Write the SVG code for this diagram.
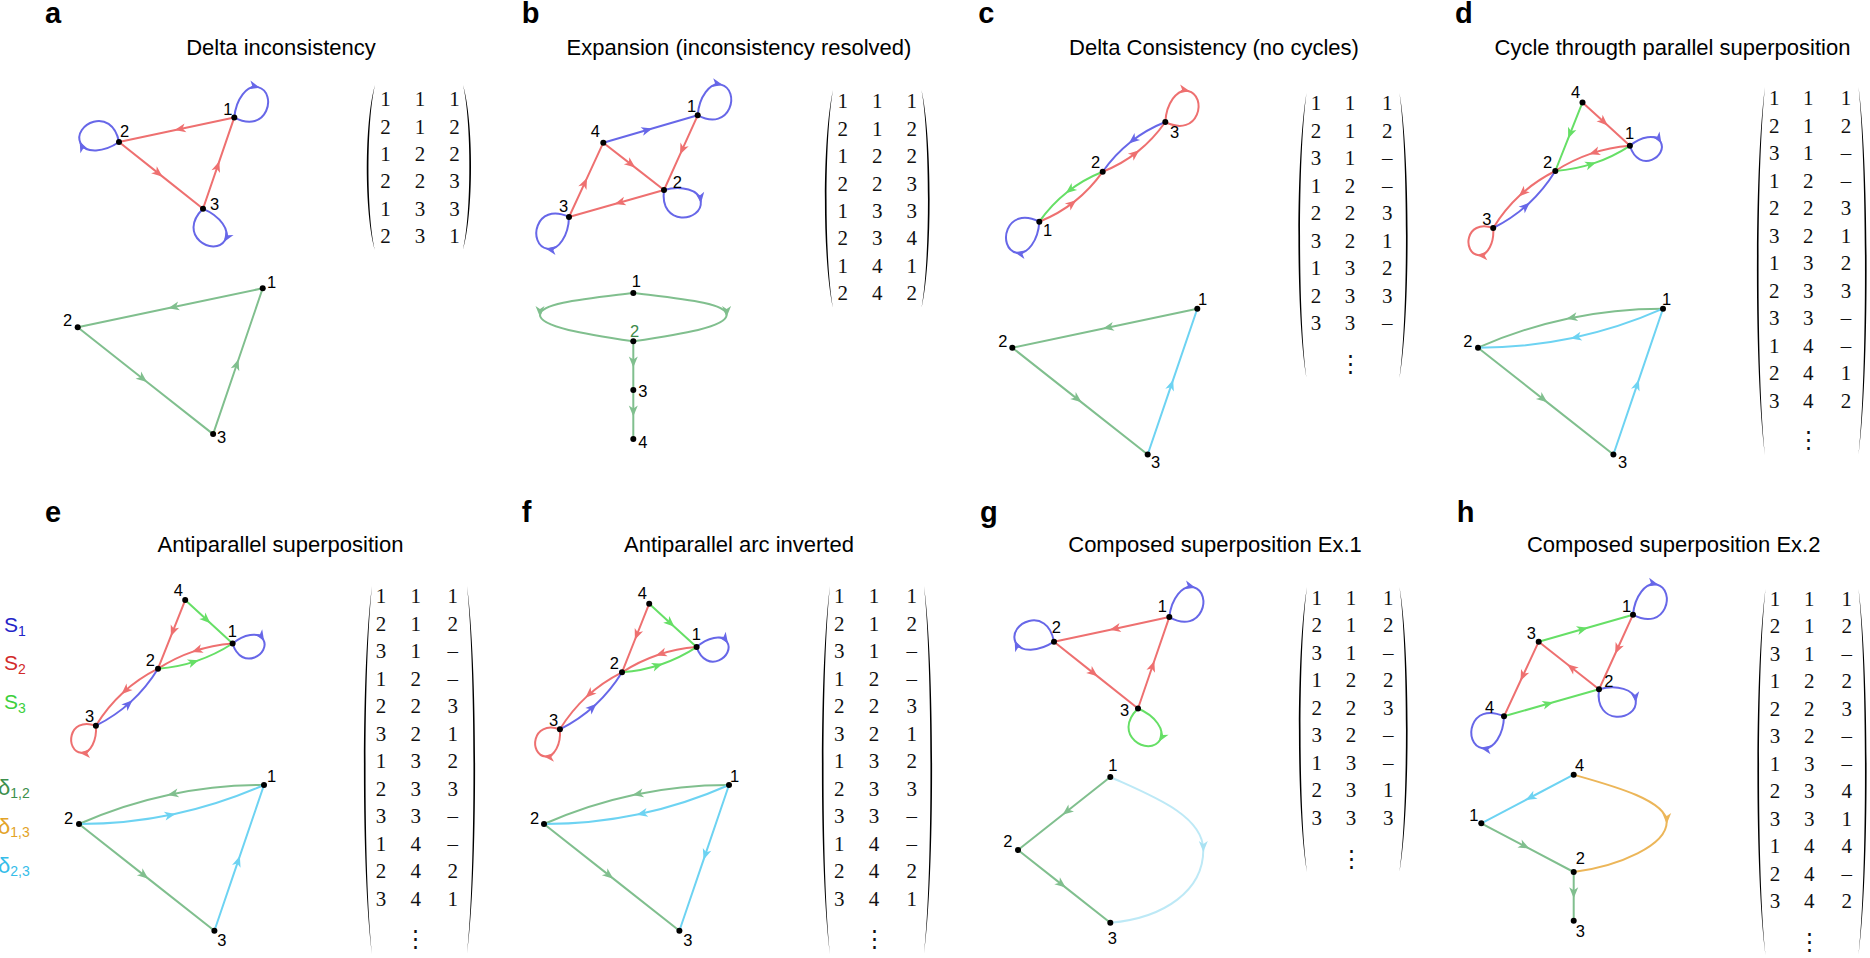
<svg xmlns="http://www.w3.org/2000/svg" width="1870" height="958" viewBox="0 0 1870 958">
<style>
text { font-family: "Liberation Sans", Arial, sans-serif; fill: #000; }
.letter { font-size: 29px; font-weight: bold; }
.title { font-size: 22px; text-anchor: middle; }
.lbl { font-size: 16.5px; }
.mx text { font-family: "Liberation Serif", "Times New Roman", serif; font-size: 21px; text-anchor: middle; fill: #111; }
.mx text.vd { font-family: "DejaVu Serif", serif; font-size: 23px; }
.paren { fill: #000; stroke: none; }
.e { fill: none; stroke-width: 2; stroke-linejoin: round; stroke-linecap: round; }
.r { stroke: #ee7070; marker-mid: url(#mr); }
.b { stroke: #6767e8; marker-mid: url(#mb); }
.g { stroke: #66df66; marker-mid: url(#mg); }
.k { stroke: #80bf8e; marker-mid: url(#mk); }
.c { stroke: #6dd3f2; marker-mid: url(#mc); }
.o { stroke: #ecb659; marker-mid: url(#mo); }
.l { stroke: #bde9f6; marker-mid: url(#ml); }
circle { fill: #000; }
</style>
<defs>
<marker id="mr" viewBox="-10 -5 13 10" markerWidth="13" markerHeight="10" refX="0" refY="0" orient="auto" markerUnits="userSpaceOnUse"><path d="M2,0 L-9,-4.5 L-6,0 L-9,4.5 Z" fill="#ee7070"/></marker>
<marker id="mb" viewBox="-10 -5 13 10" markerWidth="13" markerHeight="10" refX="0" refY="0" orient="auto" markerUnits="userSpaceOnUse"><path d="M2,0 L-9,-4.5 L-6,0 L-9,4.5 Z" fill="#6767e8"/></marker>
<marker id="mg" viewBox="-10 -5 13 10" markerWidth="13" markerHeight="10" refX="0" refY="0" orient="auto" markerUnits="userSpaceOnUse"><path d="M2,0 L-9,-4.5 L-6,0 L-9,4.5 Z" fill="#66df66"/></marker>
<marker id="mk" viewBox="-10 -5 13 10" markerWidth="13" markerHeight="10" refX="0" refY="0" orient="auto" markerUnits="userSpaceOnUse"><path d="M2,0 L-9,-4.5 L-6,0 L-9,4.5 Z" fill="#80bf8e"/></marker>
<marker id="mc" viewBox="-10 -5 13 10" markerWidth="13" markerHeight="10" refX="0" refY="0" orient="auto" markerUnits="userSpaceOnUse"><path d="M2,0 L-9,-4.5 L-6,0 L-9,4.5 Z" fill="#6dd3f2"/></marker>
<marker id="mo" viewBox="-10 -5 13 10" markerWidth="13" markerHeight="10" refX="0" refY="0" orient="auto" markerUnits="userSpaceOnUse"><path d="M2,0 L-9,-4.5 L-6,0 L-9,4.5 Z" fill="#ecb659"/></marker>
<marker id="ml" viewBox="-10 -5 13 10" markerWidth="13" markerHeight="10" refX="0" refY="0" orient="auto" markerUnits="userSpaceOnUse"><path d="M2,0 L-9,-4.5 L-6,0 L-9,4.5 Z" fill="#a9e2f3"/></marker>
</defs>

<!-- ================= PANEL A ================= -->
<g id="panel-a">
<text class="letter" x="45" y="23">a</text>
<text class="title" x="281" y="55">Delta inconsistency</text>
<g id="a-top" transform="translate(119,142)">
<g id="a-top-connectors">
<path class="e r" d="M115.3,-24.6 L57.65,-12.3 L0,0"/>
<path class="e r" d="M0,0 L42,33.4 L84,66.8"/>
<path class="e r" d="M84,66.8 L99.65,21.1 L115.3,-24.6"/>
<path class="e b" transform="translate(115.3,-24.6) rotate(-24)" d="M0,0 C9,-16 25,-25 34,-18 C50,-5 23,30 0,0"/>
<path class="e b" transform="rotate(206)" d="M0,0 C9,-16 25,-25 34,-18 C50,-5 23,30 0,0"/>
<path class="e b" transform="translate(84,66.8) rotate(83)" d="M0,0 C9,-16 25,-25 34,-18 C50,-5 23,30 0,0"/>
</g>
<g id="a-top-n1"><circle cx="115.3" cy="-24.6" r="3"/><text class="lbl" x="104.3" y="-27">1</text></g>
<g id="a-top-n2"><circle cx="0" cy="0" r="3"/><text class="lbl" x="1" y="-5">2</text></g>
<g id="a-top-n3"><circle cx="84" cy="66.8" r="3"/><text class="lbl" x="91" y="68">3</text></g>
</g>
<g id="a-bot" transform="translate(77.7,327.3)">
<g id="a-bot-connectors">
<path class="e k" d="M185,-39 L92.5,-19.5 L0,0"/>
<path class="e k" d="M0,0 L67.7,53.4 L135.4,106.8"/>
<path class="e k" d="M135.4,106.8 L160.2,33.9 L185,-39"/>
</g>
<g id="a-bot-n1"><circle cx="185" cy="-39" r="3"/><text class="lbl" x="189.3" y="-39.3">1</text></g>
<g id="a-bot-n2"><circle cx="0" cy="0" r="3"/><text class="lbl" x="-14.7" y="-1.3">2</text></g>
<g id="a-bot-n3"><circle cx="135.4" cy="106.8" r="3"/><text class="lbl" x="139.3" y="116">3</text></g>
</g>
<g id="a-matrix" class="mx">
<path class="paren" d="M375,85 C364.2,121.3 364.2,213.7 375,250 C366.4,213.7 366.4,121.3 375,85 Z"/>
<path class="paren" d="M463,85 C473.8,121.3 473.8,213.7 463,250 C471.6,213.7 471.6,121.3 463,85 Z"/>
<text x="385.5 420 454.5" y="106">111</text>
<text x="385.5 420 454.5" y="133.5">212</text>
<text x="385.5 420 454.5" y="160.9">122</text>
<text x="385.5 420 454.5" y="188.4">223</text>
<text x="385.5 420 454.5" y="215.8">133</text>
<text x="385.5 420 454.5" y="243.3">231</text>
</g>
</g>

<!-- ================= PANEL B ================= -->
<g id="panel-b">
<text class="letter" x="521.7" y="23">b</text>
<text class="title" x="739" y="55">Expansion (inconsistency resolved)</text>
<g id="b-top">
<g id="b-top-connectors">
<path class="e b" d="M603.3,142.7 L650.5,129 L697.7,115.3"/>
<path class="e r" d="M697.7,115.3 L680.85,152.65 L664,190"/>
<path class="e r" d="M603.3,142.7 L633.65,166.35 L664,190"/>
<path class="e r" d="M664,190 L616.5,203.5 L569,217"/>
<path class="e r" d="M569,217 L586.15,179.85 L603.3,142.7"/>
<path class="e b" transform="translate(697.7,115.3) rotate(-25)" d="M0,0 C9,-16 25,-25 34,-18 C50,-5 23,30 0,0"/>
<path class="e b" transform="translate(664,190) rotate(45)" d="M0,0 C9,-16 25,-25 34,-18 C50,-5 23,30 0,0"/>
<path class="e b" transform="translate(569,217) rotate(152)" d="M0,0 C9,-16 25,-25 34,-18 C50,-5 23,30 0,0"/>
</g>
<g id="b-top-n1"><circle cx="697.7" cy="115.3" r="3"/><text class="lbl" x="687" y="112">1</text></g>
<g id="b-top-n4"><circle cx="603.3" cy="142.7" r="3"/><text class="lbl" x="590.7" y="136.7">4</text></g>
<g id="b-top-n2"><circle cx="664" cy="190" r="3"/><text class="lbl" x="672.7" y="188">2</text></g>
<g id="b-top-n3"><circle cx="569" cy="217" r="3"/><text class="lbl" x="559" y="211.7">3</text></g>
</g>
<g id="b-bot">
<g id="b-bot-connectors">
<path class="e k" d="M633.3,293 C585,299 540,303 540,315 C540,327 585,334 633.3,341.3"/>
<path class="e k" d="M633.3,293 C681.6,299 726.6,303 726.6,315 C726.6,327 681.6,334 633.3,341.3"/>
<path class="e k" d="M633.3,341.3 L633.3,365.6 L633.3,390"/>
<path class="e k" d="M633.3,390 L633.3,414.5 L633.3,439"/>
</g>
<g id="b-bot-n1"><circle cx="633.3" cy="293" r="3"/><text class="lbl" x="631.7" y="286.7">1</text></g>
<g id="b-bot-n2"><circle cx="633.3" cy="341.3" r="3"/><text class="lbl" x="630" y="336.5" style="fill:#3d8a4a">2</text></g>
<g id="b-bot-n3"><circle cx="633.3" cy="390" r="3"/><text class="lbl" x="638.3" y="396.5">3</text></g>
<g id="b-bot-n4"><circle cx="633.3" cy="439" r="3"/><text class="lbl" x="638.3" y="448.3">4</text></g>
</g>
<g id="b-matrix" class="mx">
<path class="paren" d="M833,90 C822.2,138 822.2,260 833,308 C824.4,260 824.4,138 833,90 Z"/>
<path class="paren" d="M921.5,90 C932.3,138 932.3,260 921.5,308 C930.1,260 930.1,138 921.5,90 Z"/>
<text x="842.7 877.3 911.7" y="108.3">111</text>
<text x="842.7 877.3 911.7" y="135.7">212</text>
<text x="842.7 877.3 911.7" y="163.1">122</text>
<text x="842.7 877.3 911.7" y="190.5">223</text>
<text x="842.7 877.3 911.7" y="217.9">133</text>
<text x="842.7 877.3 911.7" y="245.3">234</text>
<text x="842.7 877.3 911.7" y="272.7">141</text>
<text x="842.7 877.3 911.7" y="300.1">242</text>
</g>
</g>

<!-- ================= PANEL C ================= -->
<g id="panel-c">
<text class="letter" x="978.3" y="23">c</text>
<text class="title" x="1214" y="55">Delta Consistency (no cycles)</text>
<g id="c-top">
<g id="c-top-connectors">
<path class="e b" d="M1165.3,122 Q1145.9,129.7 1130.3,142.2 Q1114.6,154.6 1102.7,171.7"/>
<path class="e r" d="M1102.7,171.7 Q1122.1,164 1137.7,151.6 Q1153.4,139.1 1165.3,122"/>
<path class="e g" d="M1102.7,171.7 Q1083.1,179.5 1067.3,192 Q1051.4,204.5 1039.3,221.7"/>
<path class="e r" d="M1039.3,221.7 Q1058.9,213.9 1074.7,201.4 Q1090.6,188.9 1102.7,171.7"/>
<path class="e r" transform="translate(1165.3,122) rotate(-26)" d="M0,0 C9,-16 25,-25 34,-18 C50,-5 23,30 0,0"/>
<path class="e b" transform="translate(1039.3,221.7) rotate(154)" d="M0,0 C9,-16 25,-25 34,-18 C50,-5 23,30 0,0"/>
</g>
<g id="c-top-n3"><circle cx="1165.3" cy="122" r="3"/><text class="lbl" x="1170" y="138">3</text></g>
<g id="c-top-n2"><circle cx="1102.7" cy="171.7" r="3"/><text class="lbl" x="1091" y="168">2</text></g>
<g id="c-top-n1"><circle cx="1039.3" cy="221.7" r="3"/><text class="lbl" x="1043" y="236">1</text></g>
</g>
<g id="c-bot" transform="translate(1012.3,347.7)">
<g id="c-bot-connectors">
<path class="e k" d="M185,-39 L92.5,-19.5 L0,0"/>
<path class="e k" d="M0,0 L67.7,53.4 L135.4,106.8"/>
<path class="e c" d="M135.4,106.8 L160.2,33.9 L185,-39"/>
</g>
<g id="c-bot-n1"><circle cx="185" cy="-39" r="3"/><text class="lbl" x="185.7" y="-42.7">1</text></g>
<g id="c-bot-n2"><circle cx="0" cy="0" r="3"/><text class="lbl" x="-14" y="-1">2</text></g>
<g id="c-bot-n3"><circle cx="135.4" cy="106.8" r="3"/><text class="lbl" x="138.7" y="120.3">3</text></g>
</g>
<g id="c-matrix" class="mx">
<path class="paren" d="M1306.5,93 C1295.7,155.7 1295.7,315.3 1306.5,378 C1297.9,315.3 1297.9,155.7 1306.5,93 Z"/>
<path class="paren" d="M1399.5,93 C1410.3,155.7 1410.3,315.3 1399.5,378 C1408.1,315.3 1408.1,155.7 1399.5,93 Z"/>
<text x="1316 1350 1387.3" y="110">111</text>
<text x="1316 1350 1387.3" y="137.5">212</text>
<text x="1316 1350 1387.3" y="165">31–</text>
<text x="1316 1350 1387.3" y="192.5">12–</text>
<text x="1316 1350 1387.3" y="220">223</text>
<text x="1316 1350 1387.3" y="247.5">321</text>
<text x="1316 1350 1387.3" y="275">132</text>
<text x="1316 1350 1387.3" y="302.5">233</text>
<text x="1316 1350 1387.3" y="330">33–</text>
<text class="vd" x="1350" y="371">⋮</text>
</g>
</g>

<!-- ================= PANEL D ================= -->
<g id="panel-d">
<text class="letter" x="1455" y="23">d</text>
<text class="title" x="1672.5" y="55">Cycle througth parallel superposition</text>
<g id="d-top" transform="translate(1555.3,171)">
<g id="d-top-connectors">
<path class="e r" d="M27.2,-68.6 L50.9,-46.9 L74.6,-25.2"/>
<path class="e g" d="M27.2,-68.6 L13.6,-34.3 L0,0"/>
<path class="e r" d="M74.6,-25.2 Q54.35,-23.64 35.7,-17.34 Q17.05,-11.04 0,0"/>
<path class="e g" d="M0,0 Q20.25,-1.56 38.9,-7.86 Q57.55,-14.16 74.6,-25.2"/>
<path class="e r" d="M0,0 Q-19.59,9.83 -35.11,24.08 Q-50.64,38.33 -62.1,57"/>
<path class="e b" d="M-62.1,57 Q-42.52,47.17 -26.99,32.92 Q-11.47,18.67 0,0"/>
<path class="e b" transform="translate(74.6,-25.2) rotate(20)" d="M0,0 C7.2,-12.8 20,-20 27.2,-14.4 C40,-4 18.4,24 0,0"/>
<path class="e r" transform="translate(-62.1,57) rotate(146)" d="M0,0 C7.2,-12.8 20,-20 27.2,-14.4 C40,-4 18.4,24 0,0"/>
</g>
<g id="d-top-n4"><circle cx="27.2" cy="-68.6" r="3"/><text class="lbl" x="15.8" y="-73">4</text></g>
<g id="d-top-n1"><circle cx="74.6" cy="-25.2" r="3"/><text class="lbl" x="69.8" y="-32">1</text></g>
<g id="d-top-n2"><circle cx="0" cy="0" r="3"/><text class="lbl" x="-12.3" y="-3">2</text></g>
<g id="d-top-n3"><circle cx="-62.1" cy="57" r="3"/><text class="lbl" x="-73" y="53.5">3</text></g>
</g>
<g id="d-bot" transform="translate(1478,347.7)">
<g id="d-bot-connectors">
<path class="e k" d="M185,-39 Q136.69,-39.04 90.44,-29.29 Q44.19,-19.54 0,0"/>
<path class="e c" d="M185,-39 Q140.81,-19.46 94.56,-9.71 Q48.31,0.04 0,0"/>
<path class="e k" d="M0,0 L67.7,53.4 L135.4,106.8"/>
<path class="e c" d="M135.4,106.8 L160.2,33.9 L185,-39"/>
</g>
<g id="d-bot-n1"><circle cx="185" cy="-39" r="3"/><text class="lbl" x="184" y="-42.7">1</text></g>
<g id="d-bot-n2"><circle cx="0" cy="0" r="3"/><text class="lbl" x="-14.7" y="-1">2</text></g>
<g id="d-bot-n3"><circle cx="135.4" cy="106.8" r="3"/><text class="lbl" x="140" y="120.3">3</text></g>
</g>
<g id="d-matrix" class="mx">
<path class="paren" d="M1765,87 C1754.2,168 1754.2,374 1765,455 C1756.4,374 1756.4,168 1765,87 Z"/>
<path class="paren" d="M1858.5,87 C1869.3,168 1869.3,374 1858.5,455 C1867.1,374 1867.1,168 1858.5,87 Z"/>
<text x="1774.3 1808.3 1846" y="105">111</text>
<text x="1774.3 1808.3 1846" y="132.5">212</text>
<text x="1774.3 1808.3 1846" y="160">31–</text>
<text x="1774.3 1808.3 1846" y="187.5">12–</text>
<text x="1774.3 1808.3 1846" y="215">223</text>
<text x="1774.3 1808.3 1846" y="242.5">321</text>
<text x="1774.3 1808.3 1846" y="270">132</text>
<text x="1774.3 1808.3 1846" y="297.5">233</text>
<text x="1774.3 1808.3 1846" y="325">33–</text>
<text x="1774.3 1808.3 1846" y="352.5">14–</text>
<text x="1774.3 1808.3 1846" y="380">241</text>
<text x="1774.3 1808.3 1846" y="407.5">342</text>
<text class="vd" x="1808.3" y="447">⋮</text>
</g>
</g>

<!-- ================= PANEL E ================= -->
<g id="panel-e">
<text class="letter" x="45" y="522">e</text>
<text class="title" x="280.5" y="552">Antiparallel superposition</text>
<g id="legend">
<text x="4" y="632" style="fill:#2323c8;font-size:21px">S<tspan dy="4" style="font-size:14px">1</tspan></text>
<text x="4" y="670" style="fill:#d22a2a;font-size:21px">S<tspan dy="4" style="font-size:14px">2</tspan></text>
<text x="4" y="708.5" style="fill:#3ccf3c;font-size:21px">S<tspan dy="4" style="font-size:14px">3</tspan></text>
<text x="-2" y="794.5" style="fill:#3d8f4c;font-size:22px">δ<tspan dy="3" style="font-size:14px">1,2</tspan></text>
<text x="-2" y="834" style="fill:#e3a327;font-size:22px">δ<tspan dy="3" style="font-size:14px">1,3</tspan></text>
<text x="-2" y="872.5" style="fill:#36bde9;font-size:22px">δ<tspan dy="3" style="font-size:14px">2,3</tspan></text>
</g>
<g id="e-top" transform="translate(158,668.7)">
<g id="e-top-connectors">
<path class="e g" d="M27.2,-68.6 L50.9,-46.9 L74.6,-25.2"/>
<path class="e r" d="M27.2,-68.6 L13.6,-34.3 L0,0"/>
<path class="e r" d="M74.6,-25.2 Q54.35,-23.64 35.7,-17.34 Q17.05,-11.04 0,0"/>
<path class="e g" d="M0,0 Q20.25,-1.56 38.9,-7.86 Q57.55,-14.16 74.6,-25.2"/>
<path class="e r" d="M0,0 Q-19.59,9.83 -35.11,24.08 Q-50.64,38.33 -62.1,57"/>
<path class="e b" d="M-62.1,57 Q-42.52,47.17 -26.99,32.92 Q-11.47,18.67 0,0"/>
<path class="e b" transform="translate(74.6,-25.2) rotate(20)" d="M0,0 C7.2,-12.8 20,-20 27.2,-14.4 C40,-4 18.4,24 0,0"/>
<path class="e r" transform="translate(-62.1,57) rotate(146)" d="M0,0 C7.2,-12.8 20,-20 27.2,-14.4 C40,-4 18.4,24 0,0"/>
</g>
<g id="e-top-n4"><circle cx="27.2" cy="-68.6" r="3"/><text class="lbl" x="15.8" y="-73">4</text></g>
<g id="e-top-n1"><circle cx="74.6" cy="-25.2" r="3"/><text class="lbl" x="69.8" y="-32">1</text></g>
<g id="e-top-n2"><circle cx="0" cy="0" r="3"/><text class="lbl" x="-12.3" y="-3">2</text></g>
<g id="e-top-n3"><circle cx="-62.1" cy="57" r="3"/><text class="lbl" x="-73" y="53.5">3</text></g>
</g>
<g id="e-bot" transform="translate(79,824)">
<g id="e-bot-connectors">
<path class="e k" d="M185,-39 Q136.69,-39.04 90.44,-29.29 Q44.19,-19.54 0,0"/>
<path class="e c" d="M0,0 Q48.31,0.04 94.56,-9.71 Q140.81,-19.46 185,-39"/>
<path class="e k" d="M0,0 L67.7,53.4 L135.4,106.8"/>
<path class="e c" d="M135.4,106.8 L160.2,33.9 L185,-39"/>
</g>
<g id="e-bot-n1"><circle cx="185" cy="-39" r="3"/><text class="lbl" x="188" y="-42">1</text></g>
<g id="e-bot-n2"><circle cx="0" cy="0" r="3"/><text class="lbl" x="-15" y="0">2</text></g>
<g id="e-bot-n3"><circle cx="135.4" cy="106.8" r="3"/><text class="lbl" x="138.3" y="121.7">3</text></g>
</g>
<g id="e-matrix" class="mx">
<path class="paren" d="M372,586 C361.2,667 361.2,873 372,954 C363.4,873 363.4,667 372,586 Z"/>
<path class="paren" d="M467,586 C477.8,667 477.8,873 467,954 C475.6,873 475.6,667 467,586 Z"/>
<text x="381 415.7 452.7" y="603">111</text>
<text x="381 415.7 452.7" y="630.5">212</text>
<text x="381 415.7 452.7" y="658">31–</text>
<text x="381 415.7 452.7" y="685.5">12–</text>
<text x="381 415.7 452.7" y="713">223</text>
<text x="381 415.7 452.7" y="740.5">321</text>
<text x="381 415.7 452.7" y="768">132</text>
<text x="381 415.7 452.7" y="795.5">233</text>
<text x="381 415.7 452.7" y="823">33–</text>
<text x="381 415.7 452.7" y="850.5">14–</text>
<text x="381 415.7 452.7" y="878">242</text>
<text x="381 415.7 452.7" y="905.5">341</text>
<text class="vd" x="415.7" y="946">⋮</text>
</g>
</g>

<!-- ================= PANEL F ================= -->
<g id="panel-f">
<text class="letter" x="521.7" y="522">f</text>
<text class="title" x="739" y="552">Antiparallel arc inverted</text>
<g id="f-top" transform="translate(622,672.3)">
<g id="f-top-connectors">
<path class="e g" d="M27.2,-68.6 L50.9,-46.9 L74.6,-25.2"/>
<path class="e r" d="M27.2,-68.6 L13.6,-34.3 L0,0"/>
<path class="e r" d="M74.6,-25.2 Q54.35,-23.64 35.7,-17.34 Q17.05,-11.04 0,0"/>
<path class="e g" d="M0,0 Q20.25,-1.56 38.9,-7.86 Q57.55,-14.16 74.6,-25.2"/>
<path class="e r" d="M0,0 Q-19.59,9.83 -35.11,24.08 Q-50.64,38.33 -62.1,57"/>
<path class="e b" d="M-62.1,57 Q-42.52,47.17 -26.99,32.92 Q-11.47,18.67 0,0"/>
<path class="e b" transform="translate(74.6,-25.2) rotate(18)" d="M0,0 C7.2,-12.8 20,-20 27.2,-14.4 C40,-4 18.4,24 0,0"/>
<path class="e r" transform="translate(-62.1,57) rotate(146)" d="M0,0 C7.2,-12.8 20,-20 27.2,-14.4 C40,-4 18.4,24 0,0"/>
</g>
<g id="f-top-n4"><circle cx="27.2" cy="-68.6" r="3"/><text class="lbl" x="15.8" y="-73">4</text></g>
<g id="f-top-n1"><circle cx="74.6" cy="-25.2" r="3"/><text class="lbl" x="69.8" y="-32">1</text></g>
<g id="f-top-n2"><circle cx="0" cy="0" r="3"/><text class="lbl" x="-12.3" y="-3">2</text></g>
<g id="f-top-n3"><circle cx="-62.1" cy="57" r="3"/><text class="lbl" x="-73" y="53.5">3</text></g>
</g>
<g id="f-bot" transform="translate(544,824)">
<g id="f-bot-connectors">
<path class="e k" d="M185,-39 Q136.69,-39.04 90.44,-29.29 Q44.19,-19.54 0,0"/>
<path class="e c" d="M185,-39 Q140.81,-19.46 94.56,-9.71 Q48.31,0.04 0,0"/>
<path class="e k" d="M0,0 L67.7,53.4 L135.4,106.8"/>
<path class="e c" d="M185,-39 L160.2,33.9 L135.4,106.8"/>
</g>
<g id="f-bot-n1"><circle cx="185" cy="-39" r="3"/><text class="lbl" x="186" y="-42">1</text></g>
<g id="f-bot-n2"><circle cx="0" cy="0" r="3"/><text class="lbl" x="-14" y="0">2</text></g>
<g id="f-bot-n3"><circle cx="135.4" cy="106.8" r="3"/><text class="lbl" x="139.3" y="121.7">3</text></g>
</g>
<g id="f-matrix" class="mx">
<path class="paren" d="M830,586 C819.2,667 819.2,873 830,954 C821.4,873 821.4,667 830,586 Z"/>
<path class="paren" d="M924,586 C934.8,667 934.8,873 924,954 C932.6,873 932.6,667 924,586 Z"/>
<text x="839.3 874 911.7" y="603">111</text>
<text x="839.3 874 911.7" y="630.5">212</text>
<text x="839.3 874 911.7" y="658">31–</text>
<text x="839.3 874 911.7" y="685.5">12–</text>
<text x="839.3 874 911.7" y="713">223</text>
<text x="839.3 874 911.7" y="740.5">321</text>
<text x="839.3 874 911.7" y="768">132</text>
<text x="839.3 874 911.7" y="795.5">233</text>
<text x="839.3 874 911.7" y="823">33–</text>
<text x="839.3 874 911.7" y="850.5">14–</text>
<text x="839.3 874 911.7" y="878">242</text>
<text x="839.3 874 911.7" y="905.5">341</text>
<text class="vd" x="874" y="946">⋮</text>
</g>
</g>

<!-- ================= PANEL G ================= -->
<g id="panel-g">
<text class="letter" x="980" y="522">g</text>
<text class="title" x="1215" y="552">Composed superposition Ex.1</text>
<g id="g-top" transform="translate(1054,641.7)">
<g id="g-top-connectors">
<path class="e r" d="M115.3,-24.6 L57.65,-12.3 L0,0"/>
<path class="e r" d="M0,0 L42,33.4 L84,66.8"/>
<path class="e r" d="M84,66.8 L99.65,21.1 L115.3,-24.6"/>
<path class="e b" transform="translate(115.3,-24.6) rotate(-23)" d="M0,0 C9,-16 25,-25 34,-18 C50,-5 23,30 0,0"/>
<path class="e b" transform="rotate(207)" d="M0,0 C9,-16 25,-25 34,-18 C50,-5 23,30 0,0"/>
<path class="e g" transform="translate(84,66.8) rotate(83)" d="M0,0 C9,-16 25,-25 34,-18 C50,-5 23,30 0,0"/>
</g>
<g id="g-top-n1"><circle cx="115.3" cy="-24.6" r="3"/><text class="lbl" x="103.7" y="-29.4">1</text></g>
<g id="g-top-n2"><circle cx="0" cy="0" r="3"/><text class="lbl" x="-2.3" y="-8.4">2</text></g>
<g id="g-top-n3"><circle cx="84" cy="66.8" r="3"/><text class="lbl" x="66" y="74.6">3</text></g>
</g>
<g id="g-bot">
<g id="g-bot-connectors">
<path class="e k" d="M1110.3,777 L1064.15,813.5 L1018,850"/>
<path class="e k" d="M1018,850 L1064.15,886.35 L1110.3,922.7"/>
<path class="e l" d="M1110.3,777 C1150,795 1203.3,815 1203.3,850 C1203.3,890 1165,918 1110.3,922.7"/>
</g>
<g id="g-bot-n1"><circle cx="1110.3" cy="777" r="3"/><text class="lbl" x="1108.3" y="770.7">1</text></g>
<g id="g-bot-n2"><circle cx="1018" cy="850" r="3"/><text class="lbl" x="1003.3" y="847.3">2</text></g>
<g id="g-bot-n3"><circle cx="1110.3" cy="922.7" r="3"/><text class="lbl" x="1107.7" y="944">3</text></g>
</g>
<g id="g-matrix" class="mx">
<path class="paren" d="M1307,587 C1296.2,649.7 1296.2,809.3 1307,872 C1298.4,809.3 1298.4,649.7 1307,587 Z"/>
<path class="paren" d="M1399.5,587 C1410.3,649.7 1410.3,809.3 1399.5,872 C1408.1,809.3 1408.1,649.7 1399.5,587 Z"/>
<text x="1316.7 1351 1388.3" y="604.7">111</text>
<text x="1316.7 1351 1388.3" y="632.2">212</text>
<text x="1316.7 1351 1388.3" y="659.7">31–</text>
<text x="1316.7 1351 1388.3" y="687.2">122</text>
<text x="1316.7 1351 1388.3" y="714.7">223</text>
<text x="1316.7 1351 1388.3" y="742.2">32–</text>
<text x="1316.7 1351 1388.3" y="769.7">13–</text>
<text x="1316.7 1351 1388.3" y="797.2">231</text>
<text x="1316.7 1351 1388.3" y="824.7">333</text>
<text class="vd" x="1351" y="866">⋮</text>
</g>
</g>

<!-- ================= PANEL H ================= -->
<g id="panel-h">
<text class="letter" x="1456.7" y="522">h</text>
<text class="title" x="1673.7" y="552">Composed superposition Ex.2</text>
<g id="h-top">
<g id="h-top-connectors">
<path class="e g" d="M1538.7,641.7 L1585.85,628.2 L1633,614.7"/>
<path class="e r" d="M1633,614.7 L1616,652 L1599,689.3"/>
<path class="e r" d="M1599,689.3 L1568.85,665.5 L1538.7,641.7"/>
<path class="e r" d="M1538.7,641.7 L1521.35,679 L1504,716.3"/>
<path class="e g" d="M1504,716.3 L1551.5,702.8 L1599,689.3"/>
<path class="e b" transform="translate(1633,614.7) rotate(-24)" d="M0,0 C9,-16 25,-25 34,-18 C50,-5 23,30 0,0"/>
<path class="e b" transform="translate(1599,689.3) rotate(45)" d="M0,0 C9,-16 25,-25 34,-18 C50,-5 23,30 0,0"/>
<path class="e b" transform="translate(1504,716.3) rotate(152)" d="M0,0 C9,-16 25,-25 34,-18 C50,-5 23,30 0,0"/>
</g>
<g id="h-top-n1"><circle cx="1633" cy="614.7" r="3"/><text class="lbl" x="1622" y="612">1</text></g>
<g id="h-top-n3"><circle cx="1538.7" cy="641.7" r="3"/><text class="lbl" x="1526.7" y="639">3</text></g>
<g id="h-top-n2"><circle cx="1599" cy="689.3" r="3"/><text class="lbl" x="1604.3" y="687">2</text></g>
<g id="h-top-n4"><circle cx="1504" cy="716.3" r="3"/><text class="lbl" x="1485" y="713">4</text></g>
</g>
<g id="h-bot">
<g id="h-bot-connectors">
<path class="e c" d="M1573.7,774.7 L1527.5,799 L1481.3,823.3"/>
<path class="e k" d="M1481.3,823.3 L1527.5,847.65 L1573.7,872"/>
<path class="e k" d="M1573.7,872 L1573.7,896.35 L1573.7,920.7"/>
<path class="e o" d="M1573.7,774.7 C1610,785 1666.7,800 1666.7,822 C1666.7,845 1620,866 1573.7,872"/>
</g>
<g id="h-bot-n4"><circle cx="1573.7" cy="774.7" r="3"/><text class="lbl" x="1575" y="770.7">4</text></g>
<g id="h-bot-n1"><circle cx="1481.3" cy="823.3" r="3"/><text class="lbl" x="1469.3" y="820.7">1</text></g>
<g id="h-bot-n2"><circle cx="1573.7" cy="872" r="3"/><text class="lbl" x="1575.7" y="864">2</text></g>
<g id="h-bot-n3"><circle cx="1573.7" cy="920.7" r="3"/><text class="lbl" x="1575.7" y="937.3">3</text></g>
</g>
<g id="h-matrix" class="mx">
<path class="paren" d="M1765.5,589 C1754.7,669.5 1754.7,874.5 1765.5,955 C1756.9,874.5 1756.9,669.5 1765.5,589 Z"/>
<path class="paren" d="M1858.5,589 C1869.3,669.5 1869.3,874.5 1858.5,955 C1867.1,874.5 1867.1,669.5 1858.5,589 Z"/>
<text x="1775 1809.3 1846.7" y="605.7">111</text>
<text x="1775 1809.3 1846.7" y="633.2">212</text>
<text x="1775 1809.3 1846.7" y="660.7">31–</text>
<text x="1775 1809.3 1846.7" y="688.2">122</text>
<text x="1775 1809.3 1846.7" y="715.7">223</text>
<text x="1775 1809.3 1846.7" y="743.2">32–</text>
<text x="1775 1809.3 1846.7" y="770.7">13–</text>
<text x="1775 1809.3 1846.7" y="798.2">234</text>
<text x="1775 1809.3 1846.7" y="825.7">331</text>
<text x="1775 1809.3 1846.7" y="853.2">144</text>
<text x="1775 1809.3 1846.7" y="880.7">24–</text>
<text x="1775 1809.3 1846.7" y="908.2">342</text>
<text class="vd" x="1809.3" y="949">⋮</text>
</g>
</g>
</svg>
